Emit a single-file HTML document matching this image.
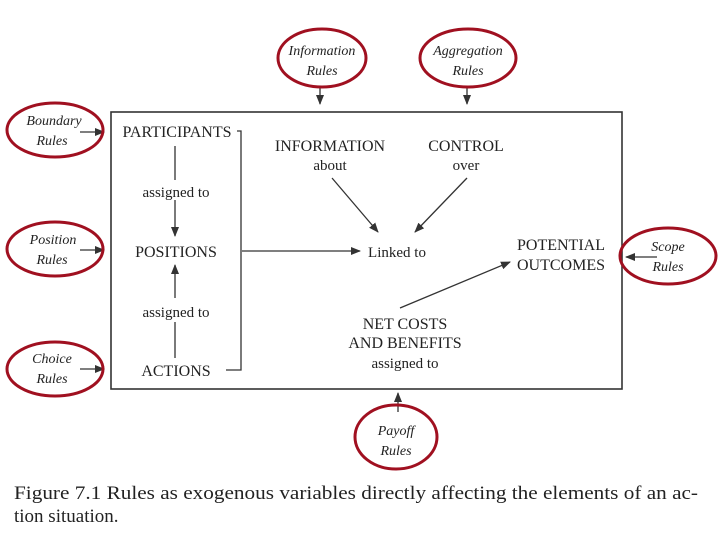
<!DOCTYPE html>
<html><head><meta charset="utf-8"><style>
html,body{margin:0;padding:0;background:#fff;}
svg{display:block;}
.t{font-family:"Liberation Serif",serif;fill:#222;}
.i{font-family:"Liberation Serif",serif;font-style:italic;fill:#222;font-size:14px;}
</style></head><body>
<svg width="720" height="540" viewBox="0 0 720 540" xmlns="http://www.w3.org/2000/svg">
<defs><marker id="a" markerWidth="10" markerHeight="8" refX="9" refY="4" orient="auto" markerUnits="userSpaceOnUse"><path d="M0,0 L10,4 L0,8 z" fill="#333"/></marker></defs>
<rect x="0" y="0" width="720" height="540" fill="#fff"/>
<g stroke="#333" stroke-width="1.3" fill="none">
<rect x="111" y="112" width="511" height="277" stroke-width="1.6"/>
<path d="M237,131 H241 V370 H226"/>
<line x1="175" y1="146" x2="175" y2="180"/>
<line x1="175" y1="200" x2="175" y2="236" marker-end="url(#a)"/>
<line x1="175" y1="298" x2="175" y2="265" marker-end="url(#a)"/>
<line x1="175" y1="322" x2="175" y2="358"/>
<line x1="242" y1="251" x2="360" y2="251" marker-end="url(#a)"/>
<line x1="332" y1="178" x2="378" y2="232" marker-end="url(#a)"/>
<line x1="467" y1="178" x2="415" y2="232" marker-end="url(#a)"/>
<line x1="400" y1="308" x2="510" y2="262" marker-end="url(#a)"/>
<line x1="320" y1="86" x2="320" y2="104" marker-end="url(#a)"/>
<line x1="467" y1="86" x2="467" y2="104" marker-end="url(#a)"/>
<line x1="80" y1="132" x2="104" y2="132" marker-end="url(#a)"/>
<line x1="80" y1="250" x2="104" y2="250" marker-end="url(#a)"/>
<line x1="80" y1="369" x2="104" y2="369" marker-end="url(#a)"/>
<line x1="657" y1="257" x2="626" y2="257" marker-end="url(#a)"/>
<line x1="398" y1="412" x2="398" y2="393" marker-end="url(#a)"/>
</g>
<g stroke="#a01020" stroke-width="3" fill="none">
<ellipse cx="322" cy="58" rx="44" ry="29"/>
<ellipse cx="468" cy="58" rx="48" ry="29"/>
<ellipse cx="55" cy="130" rx="48" ry="27"/>
<ellipse cx="55" cy="249" rx="48" ry="27"/>
<ellipse cx="55" cy="369" rx="48" ry="27"/>
<ellipse cx="668" cy="256" rx="48" ry="28"/>
<ellipse cx="396" cy="437" rx="41" ry="32"/>
</g>
<g class="i" text-anchor="middle">
<text x="322" y="55">Information</text><text x="322" y="75">Rules</text>
<text x="468" y="55">Aggregation</text><text x="468" y="75">Rules</text>
<text x="54" y="125">Boundary</text><text x="52" y="145">Rules</text>
<text x="53" y="244">Position</text><text x="52" y="264">Rules</text>
<text x="52" y="363">Choice</text><text x="52" y="383">Rules</text>
<text x="668" y="251">Scope</text><text x="668" y="271">Rules</text>
<text x="396" y="435">Payoff</text><text x="396" y="455">Rules</text>
</g>
<g class="t" text-anchor="middle" font-size="16">
<text x="177" y="137">PARTICIPANTS</text>
<text x="176" y="197" font-size="15">assigned to</text>
<text x="176" y="257">POSITIONS</text>
<text x="176" y="317" font-size="15">assigned to</text>
<text x="176" y="376">ACTIONS</text>
<text x="330" y="151">INFORMATION</text>
<text x="330" y="170" font-size="15">about</text>
<text x="466" y="151">CONTROL</text>
<text x="466" y="170" font-size="15">over</text>
<text x="397" y="257" font-size="15">Linked to</text>
<text x="561" y="250">POTENTIAL</text>
<text x="561" y="270">OUTCOMES</text>
<text x="405" y="329">NET COSTS</text>
<text x="405" y="348">AND BENEFITS</text>
<text x="405" y="368" font-size="15">assigned to</text>
</g>
<g class="t" font-size="19">
<text x="14" y="499" textLength="684" lengthAdjust="spacingAndGlyphs">Figure 7.1  Rules as exogenous variables directly affecting the elements of an ac-</text>
<text x="14" y="522">tion situation.</text>
</g>
</svg>
</body></html>
